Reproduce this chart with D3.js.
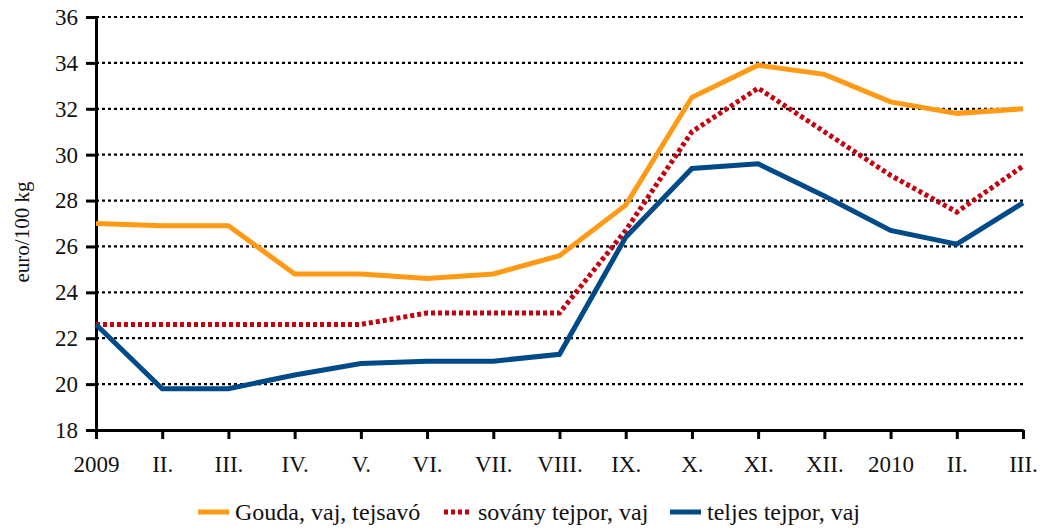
<!DOCTYPE html>
<html>
<head>
<meta charset="utf-8">
<script src="https://cdn.jsdelivr.net/npm/d3@7"></script>
<style>
    body { margin: 0; background: #fff; }
    #chart { width: 1049px; height: 529px; }
</style>
</head>
<body>
<div id="chart"></div>
<script>
    // categories and series values
    const months = ["2009", "II.", "III.", "IV.", "V.", "VI.", "VII.", "VIII.", "IX.", "X.", "XI.", "XII.", "2010", "II.", "III."];
    const gouda = [27.0, 26.9, 26.9, 24.8, 24.8, 24.6, 24.8, 25.6, 27.8, 32.5, 33.9, 33.5, 32.3, 31.8, 32.0];
    const sovany = [22.6, 22.6, 22.6, 22.6, 22.6, 23.1, 23.1, 23.1, 26.7, 31.0, 32.9, 31.0, 29.1, 27.5, 29.5];
    const teljes = [22.6, 19.8, 19.8, 20.4, 20.9, 21.0, 21.0, 21.3, 26.4, 29.4, 29.6, 28.2, 26.7, 26.1, 27.9];
    const yTicks = [18, 20, 22, 24, 26, 28, 30, 32, 34, 36];
    const seriesNames = ["Gouda, vaj, tejsavó", "sovány tejpor, vaj", "teljes tejpor, vaj"];

    const width = 1049;
    const height = 529;
    const margin = { top: 17, left: 96, right: 26, bottom: 99 };
    const font = "'Liberation Serif', 'DejaVu Serif', serif";

    const svg = d3.select("#chart")
        .append("svg")
        .attr("width", width)
        .attr("height", height);

    /*
    SCALES
    */
    const xScale = d3.scaleLinear()
        .domain([0, months.length - 1])
        .range([margin.left, width - margin.right]);

    const yScale = d3.scaleLinear()
        .domain([18, 36])
        .range([height - margin.bottom, margin.top]);

    /*
    GRIDLINES
    */
    svg.append("g")
        .selectAll("line")
        .data(yTicks.filter(d => d > 18))
        .enter()
        .append("line")
        .attr("x1", margin.left)
        .attr("x2", width - margin.right)
        .attr("y1", d => yScale(d))
        .attr("y2", d => yScale(d))
        .attr("stroke", "#000")
        .attr("stroke-width", 2.2)
        .attr("stroke-dasharray", "3,3");

    /*
    AXES
    */
    const xAxis = svg.append("g")
        .attr("transform", `translate(0,${height - margin.bottom})`)
        .call(d3.axisBottom(xScale)
            .tickValues(d3.range(months.length))
            .tickFormat(i => months[i])
            .tickSize(9)
            .tickSizeOuter(0)
            .tickPadding(17));

    const yAxis = svg.append("g")
        .attr("transform", `translate(${margin.left},0)`)
        .call(d3.axisLeft(yScale)
            .tickValues(yTicks)
            .tickSize(10)
            .tickSizeOuter(0)
            .tickPadding(8));

    [xAxis, yAxis].forEach(function (ax) {
        ax.attr("font-family", font).attr("font-size", 23);
        ax.select(".domain").attr("stroke", "#000").attr("stroke-width", 3);
        ax.selectAll(".tick line").attr("stroke", "#000").attr("stroke-width", 3);
        ax.selectAll(".tick text").attr("fill", "#111");
    });

    svg.append("text")
        .attr("x", -232)
        .attr("y", 29)
        .attr("text-anchor", "middle")
        .attr("transform", "rotate(-90)")
        .attr("font-family", font)
        .attr("font-size", 21)
        .attr("fill", "#111")
        .text("euro/100 kg");

    /*
    LINES
    */
    const line = d3.line()
        .x((d, i) => xScale(i))
        .y(d => yScale(d));

    const series = [
        { name: seriesNames[0], values: gouda, color: "#FF9A16", dash: null },
        { name: seriesNames[1], values: sovany, color: "#C4000E", dash: "4,3" },
        { name: seriesNames[2], values: teljes, color: "#004A88", dash: null }
    ];

    series.forEach(function (s) {
        svg.append("path")
            .datum(s.values)
            .attr("d", line)
            .attr("fill", "none")
            .attr("stroke", s.color)
            .attr("stroke-width", 5)
            .attr("stroke-linejoin", "miter")
            .attr("stroke-dasharray", s.dash);
    });

    /*
    LEGEND
    */
    const legendPos = [198, 444, 670];
    const legend = svg.append("g");
    series.forEach(function (s, i) {
        const g = legend.append("g").attr("transform", `translate(${legendPos[i]},512)`);
        g.append("line")
            .attr("x1", 0)
            .attr("x2", i == 1 ? 27 : 31)
            .attr("y1", 0)
            .attr("y2", 0)
            .attr("stroke", s.color)
            .attr("stroke-width", 5)
            .attr("stroke-dasharray", s.dash);
        g.append("text")
            .attr("x", i == 1 ? 34 : 37)
            .attr("y", 8)
            .attr("font-family", font)
            .attr("font-size", 24)
            .attr("fill", "#111")
            .text(s.name);
    });
</script>
</body>
</html>
